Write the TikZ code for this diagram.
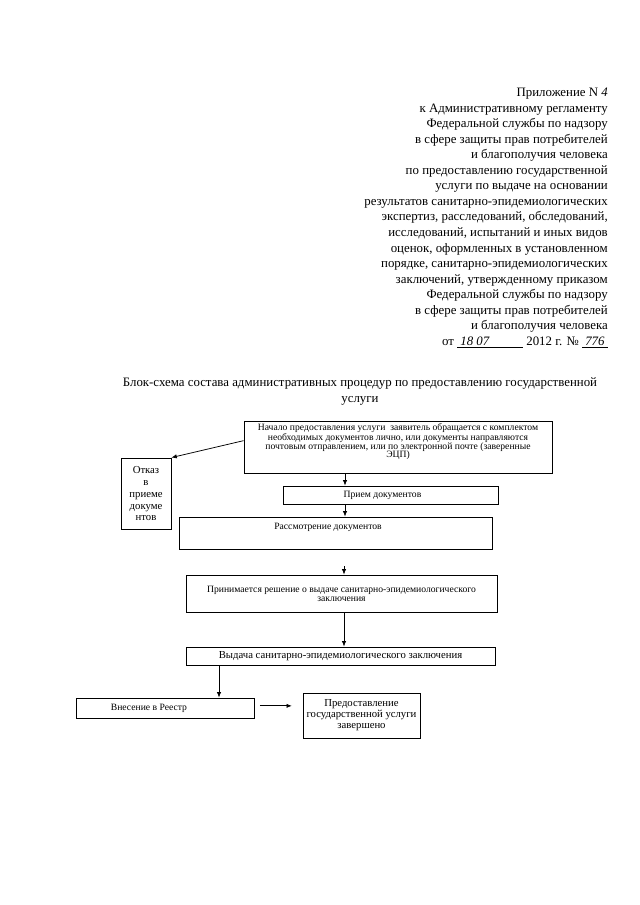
\documentclass[tikz,border=0pt]{standalone}
\usepackage{fontspec}
\setmainfont{Liberation Serif}
\usetikzlibrary{calc,arrows.meta}

\newcommand{\pxu}{0.3281mm}
\tikzset{
  box/.style={draw, line width=0.8pt, inner sep=1pt, align=center,
    font=\fontsize{9}{8.3}\selectfont},
  sz/.style 2 args={minimum width=#1*\pxu, minimum height=#2*\pxu},
  arr/.style={-{Latex[length=5pt,width=4pt]}, line width=0.7pt}
}

\begin{document}
\begin{tikzpicture}[x=\pxu, y=-\pxu]
  \useasboundingbox (0,0) rectangle (640,905);
  % header
  \node[anchor=north east, align=right, inner sep=0pt, font=\fontsize{12}{14.5}\selectfont] (pril) at (608,88)
    {Приложение N \textit{4}\\
     к Административному регламенту\\
     Федеральной службы по надзору\\
     в сфере защиты прав потребителей\\
     и благополучия человека\\
     по предоставлению государственной\\
     услуги по выдаче на основании\\
     результатов санитарно-эпидемиологических\\
     экспертиз, расследований, обследований,\\
     исследований, испытаний и иных видов\\
     оценок, оформленных в установленном\\
     порядке, санитарно-эпидемиологических\\
     заключений, утвержденному приказом\\
     Федеральной службы по надзору\\
     в сфере защиты прав потребителей\\
     и благополучия человека\\
     от \underline{\textit{\ 18\ 07}\hspace{2.6em}} 2012 г. № \underline{\textit{\ 776\ }}};
  \node[align=center, font=\fontsize{12}{14.9}\selectfont] (title) at (360,391)
    {Блок-схема состава административных процедур по предоставлению государственной\\услуги};

  % boxes
  \node[box, sz={308}{52}, text depth=12pt] (nachalo) at (398,447)
    {Начало предоставления услуги \ заявитель обращается с комплектом\\
     необходимых документов лично, или документы направляются\\
     почтовым отправлением, или по электронной почте (заверенные\\
     ЭЦП)};
  \node[box, sz={50}{71}, font=\fontsize{10}{11.2}\selectfont] (otkaz) at (146,493.5)
    {Отказ\\в\\приеме\\докуме\\нтов};
  \node[box, sz={215}{18}] (priem) at (390.5,495) {Прием документов\hspace*{15pt}};
  \node[box, sz={313}{32}, text depth=12pt] (rassm) at (335.5,533) {Рассмотрение документов\hspace*{14pt}};
  \node[box, sz={311}{37}] (prin) at (341.5,593.5)
    {Принимается решение о выдаче санитарно-эпидемиологического\\заключения};
  \node[box, sz={309}{18}, font=\fontsize{10}{9}\selectfont] (vydacha) at (340.5,656)
    {Выдача санитарно-эпидемиологического заключения};
  \node[box, sz={178}{20}] (vnes) at (165,708) {Внесение в Реестр\hspace*{30pt}};
  \node[box, sz={117}{45}, font=\fontsize{10}{10.2}\selectfont] (zav) at (361.5,715.5)
    {Предоставление\\государственной услуги\\завершено};

  % arrows
  \coordinate (rp) at (344,566);
  \draw[arr] ($(nachalo.north west)!0.38!(nachalo.south west)$) -- (otkaz.north east);
  \draw[arr] (345,0 |- nachalo.south) -- (345,0 |- priem.north);
  \draw[arr] (345,0 |- priem.south) -- (345,0 |- rassm.north);
  \draw[arr] (rp) -- (rp |- prin.north);
  \draw[arr] (344,0 |- prin.south) -- (344,0 |- vydacha.north);
  \draw[arr] (219,0 |- vydacha.south) -- (219,0 |- vnes.north);
  \draw[arr] ([xshift=5pt,yshift=2pt]vnes.east) -- ([xshift=-10pt,yshift=2pt]vnes.east -| zav.west);
\end{tikzpicture}
\end{document}
